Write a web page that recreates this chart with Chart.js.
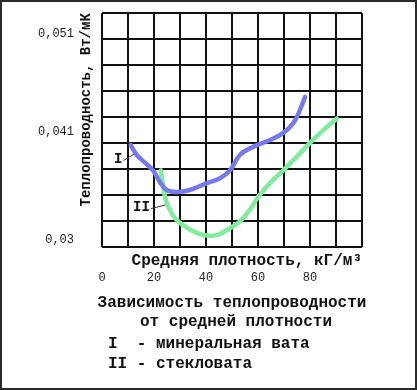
<!DOCTYPE html>
<html>
<head>
<meta charset="utf-8">
<script src="https://cdn.jsdelivr.net/npm/chart.js@4/dist/chart.umd.min.js"></script>
<style>
  html, body { margin: 0; padding: 0; background: #fff; }
  #frame { position: relative; width: 417px; height: 390px; box-sizing: border-box; border: 2px solid #2a2a2a; background: #fff; overflow: hidden; }
  #wrap { position: absolute; left: 0; top: 0; width: 413px; height: 386px; }
  .cap { position: absolute; font-family: "Liberation Mono", "Courier New", monospace; font-weight: bold; font-size: 16px; color: #111; white-space: pre; line-height: 19px; }
</style>
</head>
<body>
<div id="frame">
  <div id="wrap"><canvas id="c"></canvas></div>
  <div class="cap" style="left:0; width:460px; text-align:center; top:292px;">Зависимость теплопроводности</div>
  <div class="cap" style="left:0; width:468px; text-align:center; top:311px;">от средней плотности</div>
  <div class="cap" style="left:106px; top:333px;">I  - минеральная вата</div>
  <div class="cap" style="left:106px; top:353px;">II - стекловата</div>
</div>
<script>
// ---- data ----
const densityI = [11.0, 13.3, 16.5, 19.6, 22.3, 24.9, 28.7, 33.8, 40.3, 45.4, 49.2, 53.1, 58.1, 64.6, 69.6, 73.5, 76.2, 78.1];
const conductI = [0.0397, 0.0387, 0.0379, 0.0371, 0.0359, 0.0351, 0.0349, 0.0351, 0.0358, 0.0363, 0.0371, 0.0387, 0.0395, 0.0402, 0.0409, 0.0419, 0.0433, 0.0446];
const densityII = [22.6, 23.3, 24.2, 25.5, 28.1, 31.3, 35.1, 39.0, 44.1, 49.2, 53.1, 56.9, 60.1, 64.6, 69.7, 74.9, 80.0, 85.1, 90.3];
const conductII = [0.0371, 0.0359, 0.0344, 0.0334, 0.0322, 0.0315, 0.0309, 0.0305, 0.0305, 0.0312, 0.0319, 0.0331, 0.0344, 0.0358, 0.0371, 0.0385, 0.0399, 0.0412, 0.0424];
const yTickValues = [0.03, 0.041, 0.051];
const xTickLabels = ['0', '20', '40', '60', '80'];
const seriesNames = ['I', 'II'];
const labelPosI = [6.2, 0.0382];
const labelPosII = [15.2, 0.0333];
const leaderIx = [8.3, 12.6];
const leaderIy = [0.0381, 0.0388];
const leaderIIx = [18.8, 24.9];
const leaderIIy = [0.0332, 0.0336];
const xTitle = 'Средняя плотность, кГ/м³';
const yTitle = 'Теплопроводность, Вт/мК';
const yMin = 0.029285, yMax = 0.053136;
const xMin = 0, xMax = 100;

const toPts = (xs, ys) => xs.map((x, i) => ({x: x, y: ys[i]}));
const mono = '"Liberation Mono", "Courier New", monospace';

const labelPlugin = {
  id: 'seriesLabels',
  afterDatasetsDraw(chart) {
    const {ctx, scales} = chart;
    ctx.save();
    ctx.font = 'bold 14px ' + mono;
    ctx.fillStyle = '#111';
    ctx.textAlign = 'center';
    ctx.textBaseline = 'middle';
    [[seriesNames[0], labelPosI], [seriesNames[1], labelPosII]].forEach(([t, p]) => {
      ctx.fillText(t, scales.x.getPixelForValue(p[0]), scales.y.getPixelForValue(p[1]));
    });
    ctx.restore();
  }
};

const gridColor = '#111';
new Chart(document.getElementById('c'), {
  type: 'line',
  data: {
    datasets: [
      { label: seriesNames[0], data: toPts(densityI, conductI), borderColor: '#7679ee', borderWidth: 4.5, tension: 0.4, pointRadius: 0, fill: false, borderCapStyle: 'round', borderJoinStyle: 'round' },
      { label: seriesNames[1], data: toPts(densityII, conductII), borderColor: '#80ec9c', borderWidth: 4.5, tension: 0.4, pointRadius: 0, fill: false, borderCapStyle: 'round', borderJoinStyle: 'round' },
      { label: 'leaderI', data: toPts(leaderIx, leaderIy), borderColor: '#333', borderWidth: 1, pointRadius: 0, tension: 0 },
      { label: 'leaderII', data: toPts(leaderIIx, leaderIIy), borderColor: '#333', borderWidth: 1, pointRadius: 0, tension: 0 }
    ]
  },
  options: {
    responsive: true,
    maintainAspectRatio: false,
    animation: false,
    events: [],
    layout: { padding: { left: 0, right: 53, top: 11, bottom: 0 } },
    plugins: { legend: { display: false }, tooltip: { enabled: false } },
    scales: {
      x: {
        type: 'linear', position: 'bottom', min: xMin, max: xMax, weight: 0,
        ticks: { display: false, stepSize: 10 },
        grid: { color: gridColor, lineWidth: 2, drawTicks: false },
        border: { display: false },
        title: { display: true, text: xTitle, align: 'end', color: '#111', font: { family: mono, size: 16, weight: 'bold' }, padding: 0 },
        afterFit(s) { s.height = 24; }
      },
      x2: {
        type: 'linear', position: 'bottom', min: xMin, max: xMax, weight: 1,
        grid: { display: false, drawTicks: false },
        border: { display: false },
        ticks: { padding: 0, color: '#222', font: { family: mono, size: 12 }, maxRotation: 0, autoSkip: false,
          callback: (v) => { const i = xTickLabels.indexOf(String(v)); return i >= 0 ? xTickLabels[i] : ''; } },
        afterBuildTicks(s) { s.ticks = xTickLabels.map(t => ({ value: Number(t) })); },
        afterFit(s) { s.height = 101 + 16; }
      },
      y: {
        type: 'linear', position: 'left', min: yMin, max: yMax, weight: 0,
        ticks: { display: false },
        afterBuildTicks(s) { s.ticks = Array.from({length: 10}, (_, i) => ({ value: yMin + i * (yMax - yMin) / 9 })); },
        grid: { color: gridColor, lineWidth: 2, drawTicks: false },
        border: { display: false },
        title: { display: true, text: yTitle, align: 'end', color: '#111', font: { family: mono, size: 14, weight: 'bold' }, padding: 0 },
        afterFit(s) { s.width = 24; }
      },
      y2: {
        type: 'linear', position: 'left', min: yMin, max: yMax, weight: 1,
        grid: { display: false, drawTicks: false },
        border: { display: false },
        ticks: { padding: 4, color: '#222', font: { family: mono, size: 12 },
          callback: (v) => String(v).replace('.', ',') },
        afterBuildTicks(s) { s.ticks = yTickValues.map(v => ({ value: v })); },
        afterFit(s) { s.width = 76; }
      }
    }
  },
  plugins: [labelPlugin]
});
</script>
</body>
</html>
